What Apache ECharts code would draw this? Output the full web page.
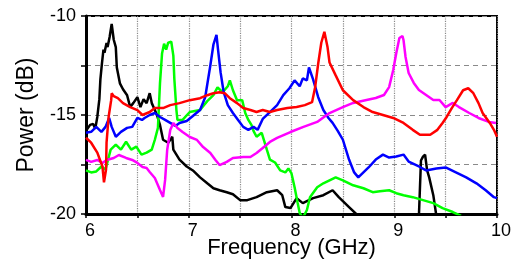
<!DOCTYPE html>
<html>
<head>
<meta charset="utf-8">
<script src="https://cdn.jsdelivr.net/npm/echarts@6/dist/echarts.min.js"></script>
<style>
  html, body { margin: 0; padding: 0; background: #fff; }
  #chart { width: 516px; height: 261px; }
</style>
</head>
<body>
<div id="chart"></div>
<script>
// 頻率 (GHz) / 功率 (dB) 讀圖數值
const xTicks = [6, 6.5, 7, 7.5, 8, 8.5, 9, 9.5, 10];
const yTicks = [-20, -17.5, -15, -12.5, -10];

const blackPts = [
  [6.00, -15.8], [6.04, -15.5], [6.07, -15.45], [6.09, -15.7], [6.11, -15.1], [6.13, -14.2],
  [6.14, -13.2], [6.155, -12.4], [6.17, -11.7], [6.18, -11.85], [6.20, -11.36], [6.21, -11.57],
  [6.23, -11.06], [6.25, -10.4], [6.27, -11.2], [6.29, -11.57], [6.30, -12.6], [6.33, -13.4],
  [6.36, -13.7], [6.40, -14.0], [6.43, -14.6], [6.46, -14.4], [6.50, -14.1], [6.53, -14.6],
  [6.56, -14.2], [6.59, -14.4], [6.62, -13.9], [6.64, -14.4], [6.67, -14.75], [6.69, -15.0],
  [6.72, -15.5], [6.75, -16.25], [6.80, -16.4], [6.84, -16.1], [6.85, -16.75], [6.91, -17.25],
  [6.98, -17.6], [7.04, -17.8], [7.11, -18.15], [7.18, -18.45], [7.24, -18.7], [7.30, -18.8],
  [7.37, -18.9], [7.43, -19.0], [7.50, -19.3], [7.57, -19.3], [7.66, -19.15], [7.76, -18.9],
  [7.86, -18.8], [7.91, -19.05], [7.94, -19.65], [7.99, -19.7], [8.05, -19.2], [8.11, -19.45],
  [8.21, -19.2], [8.31, -19.05], [8.40, -18.8], [8.46, -19.15], [8.56, -19.65], [8.65, -20.1],
  [8.9, null],
  [9.24, -20.1], [9.26, -17.3], [9.28, -17.1], [9.30, -17.0], [9.32, -17.8], [9.34, -18.15],
  [9.38, -19.05], [9.41, -20.1]
];

const greenPts = [
  [6.00, -17.8], [6.05, -17.9], [6.10, -17.85], [6.15, -17.6], [6.19, -17.75], [6.24, -16.75],
  [6.29, -16.5], [6.34, -16.75], [6.39, -16.35], [6.44, -16.75], [6.49, -16.6], [6.54, -17.0],
  [6.59, -16.9], [6.64, -16.75], [6.67, -16.25], [6.70, -15.65], [6.72, -13.4], [6.74, -11.9],
  [6.76, -11.4], [6.78, -11.7], [6.80, -11.35], [6.83, -11.3], [6.85, -12.0], [6.86, -13.2],
  [6.88, -14.75], [6.89, -15.25], [6.94, -15.25], [7.01, -14.85], [7.11, -14.75], [7.18, -14.3],
  [7.24, -14.0], [7.28, -13.6], [7.33, -13.85], [7.38, -13.55], [7.40, -13.25], [7.43, -13.75],
  [7.47, -14.25], [7.52, -14.25], [7.55, -14.9], [7.58, -15.25], [7.61, -15.5], [7.63, -15.8],
  [7.66, -16.1], [7.71, -15.9], [7.76, -16.75], [7.79, -17.25], [7.84, -17.4], [7.89, -17.8],
  [7.94, -17.9], [7.97, -17.7], [8.00, -17.95], [8.03, -18.65], [8.06, -19.45], [8.08, -19.95],
  [8.11, -20.2], [8.15, -19.8], [8.18, -19.15], [8.25, -18.65], [8.31, -18.45], [8.37, -18.3],
  [8.43, -18.15], [8.50, -18.3], [8.60, -18.55], [8.70, -18.7], [8.79, -18.9], [8.86, -18.85],
  [8.95, -18.8], [9.02, -18.95], [9.09, -19.05], [9.18, -19.15], [9.28, -19.3], [9.38, -19.45],
  [9.47, -19.7], [9.57, -19.9], [9.65, -20.1]
];

const bluePts = [
  [6.00, -15.9], [6.05, -15.85], [6.10, -15.6], [6.15, -15.85], [6.19, -15.6], [6.225, -15.15],
  [6.25, -15.6], [6.29, -16.1], [6.34, -15.85], [6.40, -15.65], [6.45, -15.6], [6.50, -15.15],
  [6.545, -15.25], [6.57, -15.15], [6.62, -15.0], [6.67, -14.9], [6.72, -15.1], [6.77, -15.25],
  [6.82, -15.4], [6.87, -15.55], [6.91, -15.4], [6.98, -15.3], [7.04, -15.05], [7.11, -14.75],
  [7.16, -14.1], [7.21, -12.5], [7.24, -11.45], [7.27, -10.95], [7.285, -11.7], [7.31, -12.85],
  [7.34, -13.85], [7.38, -14.5], [7.43, -14.9], [7.48, -15.25], [7.53, -15.6], [7.58, -15.75],
  [7.63, -15.6], [7.67, -15.75], [7.72, -15.2], [7.79, -14.85], [7.86, -14.5], [7.92, -14.0],
  [7.98, -13.65], [8.03, -13.25], [8.08, -13.55], [8.11, -13.15], [8.15, -13.25], [8.17, -12.6],
  [8.21, -13.2], [8.26, -14.1], [8.31, -14.75], [8.36, -15.15], [8.40, -15.4], [8.45, -15.8],
  [8.50, -16.25], [8.56, -17.25], [8.61, -17.9], [8.65, -18.15], [8.70, -17.9], [8.75, -17.65],
  [8.82, -17.25], [8.89, -17.0], [8.95, -17.15], [9.02, -17.1], [9.09, -17.0], [9.14, -17.35],
  [9.24, -17.6], [9.31, -17.8], [9.41, -17.7], [9.50, -17.65], [9.60, -17.9], [9.70, -18.15],
  [9.80, -18.45], [9.89, -18.8], [9.97, -19.15], [10.0, -19.2]
];

const magentaPts = [
  [6.00, -17.27], [6.05, -17.37], [6.11, -17.27], [6.16, -17.42], [6.20, -17.27], [6.27, -17.17],
  [6.32, -17.02], [6.39, -17.17], [6.45, -17.27], [6.50, -17.42], [6.55, -17.63], [6.59, -17.68],
  [6.62, -17.88], [6.67, -18.18], [6.72, -18.79], [6.75, -19.14], [6.77, -18.28], [6.79, -16.77],
  [6.82, -15.76], [6.85, -15.4], [6.89, -15.66], [6.94, -15.86], [7.01, -16.11], [7.08, -16.26],
  [7.14, -16.62], [7.21, -16.92], [7.26, -17.27], [7.30, -17.53], [7.37, -17.37], [7.43, -17.17],
  [7.53, -17.12], [7.60, -17.12], [7.66, -16.92], [7.72, -16.67], [7.79, -16.36], [7.86, -16.16],
  [7.99, -15.86], [8.11, -15.61], [8.25, -15.35], [8.37, -14.9], [8.50, -14.6], [8.60, -14.39],
  [8.73, -14.24], [8.82, -14.14], [8.90, -13.99], [8.95, -13.59], [8.99, -12.73], [9.02, -11.87],
  [9.05, -11.11], [9.08, -11.01], [9.09, -11.21], [9.11, -12.07], [9.14, -12.88], [9.19, -13.38],
  [9.24, -13.74], [9.31, -13.99], [9.38, -14.24], [9.44, -14.24], [9.50, -14.6], [9.57, -14.39],
  [9.63, -14.6], [9.73, -14.9], [9.82, -15.15], [9.92, -15.35], [9.99, -15.4]
];

const redPts = [
  [6.00, -16.15], [6.05, -16.4], [6.11, -16.9], [6.16, -17.6], [6.175, -18.4], [6.195, -17.75],
  [6.20, -16.4], [6.22, -15.1], [6.245, -14.25], [6.25, -13.9], [6.27, -14.05], [6.31, -14.15],
  [6.36, -14.4], [6.43, -14.6], [6.50, -14.75], [6.55, -15.0], [6.62, -14.85], [6.67, -14.65],
  [6.75, -14.65], [6.82, -14.5], [6.91, -14.4], [7.01, -14.25], [7.11, -14.15], [7.18, -14.0],
  [7.24, -13.9], [7.30, -13.85], [7.35, -13.9], [7.40, -14.15], [7.47, -14.4], [7.53, -14.65],
  [7.60, -14.75], [7.66, -14.85], [7.72, -14.75], [7.79, -14.85], [7.86, -14.75], [7.96, -14.65],
  [8.05, -14.6], [8.13, -14.5], [8.20, -14.35], [8.23, -13.6], [8.26, -12.4], [8.29, -11.35],
  [8.32, -10.8], [8.35, -11.55], [8.37, -12.35], [8.43, -13.0], [8.50, -13.75], [8.60, -14.25],
  [8.70, -14.6], [8.79, -14.85], [8.89, -15.0], [8.99, -15.15], [9.09, -15.4], [9.18, -15.75],
  [9.25, -16.0], [9.35, -16.0], [9.42, -15.75], [9.47, -15.4], [9.51, -15.1], [9.56, -14.65],
  [9.61, -14.25], [9.67, -13.75], [9.72, -13.65], [9.77, -13.9], [9.82, -14.4], [9.86, -14.9],
  [9.93, -15.4], [9.97, -15.75], [10.0, -16.1]
];

const font = "Liberation Sans, Arial, sans-serif";

function lineSeries(name, data, c) {
  return {
    name,
    type: "line",
    data,
    showSymbol: false,
    connectNulls: false,
    clip: true,
    lineStyle: { color: c, width: 2.5 },
    itemStyle: { color: c },
    animation: false,
  };
}

const chart = echarts.init(document.getElementById("chart"), null, { renderer: "canvas" });
chart.setOption({
  animation: false,
  grid: {
    left: 86, right: 19, top: 16, bottom: 47,
    containLabel: false, outerBoundsMode: "none",
    show: true, borderColor: "#000", borderWidth: 2,
  },
  xAxis: {
    type: "value",
    min: xTicks[0], max: xTicks[xTicks.length - 1], interval: 0.5,
    name: "Frequency (GHz)", nameLocation: "middle", nameGap: 23, nameMoveOverlap: false,
    nameTextStyle: { color: "#000", fontSize: 22, fontFamily: font },
    axisLine: { lineStyle: { color: "#000", width: 3 } },
    axisTick: { show: true, inside: false, length: 4, lineStyle: { color: "#000", width: 1.5 } },
    axisLabel: {
      color: "#000", fontSize: 18, fontFamily: font, margin: 8, padding: [0, 0, 0, 8],
      formatter: (v) => (Number.isInteger(v) ? String(v) : ""),
    },
    splitLine: { show: true, lineStyle: { color: "#8a8a8a", type: "dotted", width: 1.2 } },
  },
  yAxis: {
    type: "value",
    min: yTicks[0], max: yTicks[yTicks.length - 1], interval: 2.5,
    name: "Power (dB)", nameLocation: "middle", nameGap: 48, nameMoveOverlap: false,
    nameTextStyle: { color: "#000", fontSize: 23, fontFamily: font },
    axisLine: { show: true, lineStyle: { color: "#000", width: 3 } },
    axisTick: { show: true, inside: false, length: 5, lineStyle: { color: "#000", width: 1.5 } },
    axisLabel: {
      color: "#000", fontSize: 18, fontFamily: font, margin: 10,
      formatter: (v) => (v % 5 === 0 ? String(v) : ""),
    },
    splitLine: { show: true, lineStyle: { color: "#8a8a8a", type: [5, 4], width: 1.2 } },
  },
  series: [
    lineSeries("black", blackPts, "#000000"),
    lineSeries("green", greenPts, "#00ff00"),
    lineSeries("blue", bluePts, "#0000ff"),
    lineSeries("magenta", magentaPts, "#ff00ff"),
    lineSeries("red", redPts, "#ff0000"),
  ],
});
</script>
</body>
</html>
